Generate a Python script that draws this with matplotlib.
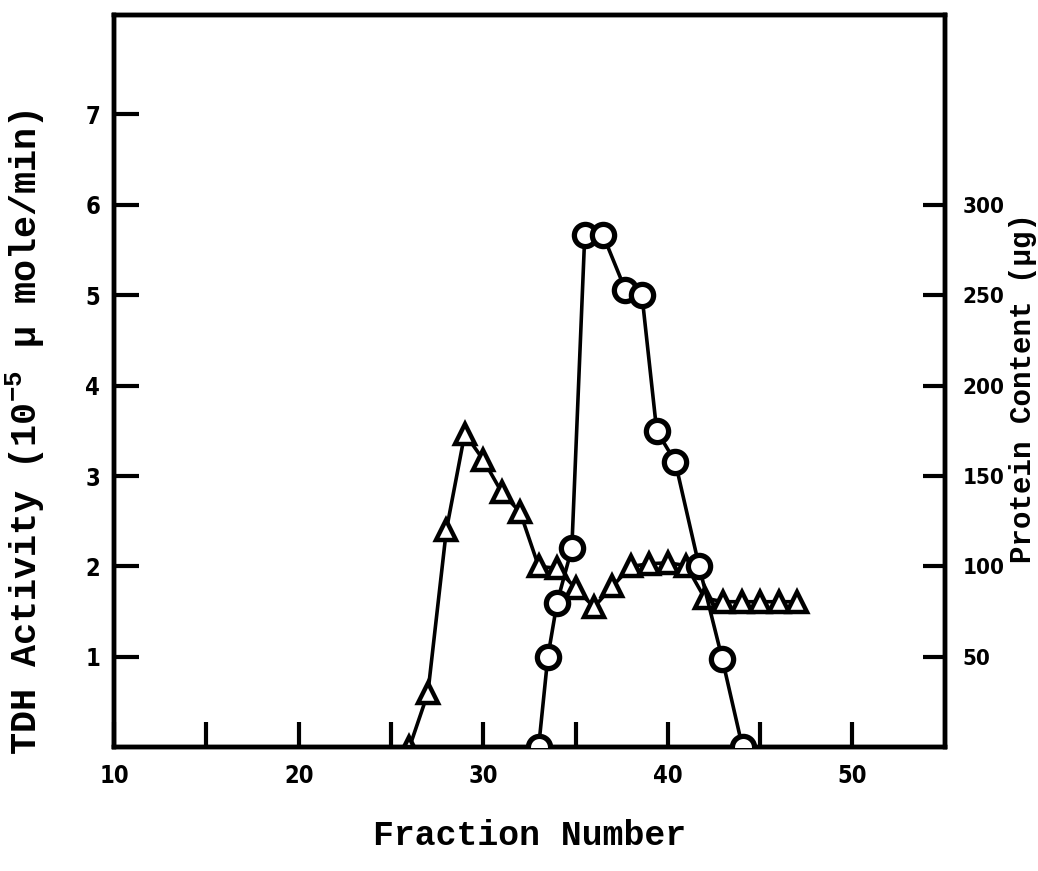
import matplotlib
matplotlib.use("Agg")
import matplotlib.pyplot as plt

# TDH activity (triangles), left axis units (10^-5 umole/min)
act_fraction = [26, 27, 28, 29, 30, 31, 32, 33, 34, 35, 36, 37, 38, 39, 40, 41, 42, 43, 44, 45, 46, 47]
act_values = [0.0, 0.6, 2.4, 3.47, 3.18, 2.82, 2.6, 2.0, 1.98, 1.76, 1.55, 1.78, 2.0, 2.03, 2.04, 2.01, 1.65, 1.61, 1.61, 1.61, 1.61, 1.61]

# Protein content (circles), right axis units (ug)
prot_fraction = [33.0, 33.5, 34.0, 34.8, 35.5, 36.5, 37.7, 38.6, 39.4, 40.4, 41.7, 42.95, 44.05]
prot_values = [0, 50, 80, 110, 283, 283, 253, 250, 175, 158, 100, 49, 0]

x_ticks_major = [10, 20, 30, 40, 50]
x_ticks_minor = [15, 25, 35, 45]
left_ticks = [1, 2, 3, 4, 5, 6, 7]
right_ticks = [50, 100, 150, 200, 250, 300]

mono = "Liberation Mono"

fig = plt.figure(figsize=(10.38, 8.71), dpi=100)
ax = fig.add_axes([0.110, 0.142, 0.800, 0.841])
ax2 = ax.twinx()

ymax_left = 8.1
ax.set_xlim(10, 55)
ax.set_ylim(0, ymax_left)
ax2.set_ylim(0, ymax_left * 50)

ax.plot(act_fraction, act_values, color="black", lw=2.6, marker="^", ms=14,
        mfc="white", mec="black", mew=3.2, zorder=3)
ax2.plot(prot_fraction, prot_values, color="black", lw=2.6, marker="o", ms=16,
         mfc="white", mec="black", mew=3.8, zorder=3)

for a in (ax, ax2):
    for s in a.spines.values():
        s.set_linewidth(3.2)

ax.set_xticks(x_ticks_major)
ax.set_xticks(x_ticks_minor, minor=True)
ax.set_yticks(left_ticks)
ax2.set_yticks(right_ticks)

ax.tick_params(axis="x", which="both", direction="in", length=18, width=3, pad=12)
ax.tick_params(axis="y", direction="in", length=18, width=3, pad=10)
ax2.tick_params(axis="y", direction="in", length=16, width=3, pad=13)

for lab in ax.get_xticklabels() + ax.get_yticklabels():
    lab.set_fontweight("heavy")
    lab.set_fontsize(17)
    lab.set_fontstretch("condensed")
for lab in ax2.get_yticklabels():
    lab.set_fontweight("heavy")
    lab.set_fontsize(16)
    lab.set_fontstretch("condensed")

ax.set_xlabel("Fraction Number", fontfamily=mono, fontsize=25, fontweight="bold", labelpad=22)
ax.set_ylabel("TDH Activity (10$^{\\mathregular{-5}}$ \u03bc mole/min)", fontfamily=mono,
              fontsize=26.5, fontweight="bold")
ax.yaxis.set_label_coords(-0.081, 0.43)
ax2.set_ylabel("Protein Content (\u03bcg)", fontfamily=mono, fontsize=21,
               fontweight="bold")
ax2.yaxis.set_label_coords(1.078, 0.49)

fig.savefig("out.png", dpi=100)
